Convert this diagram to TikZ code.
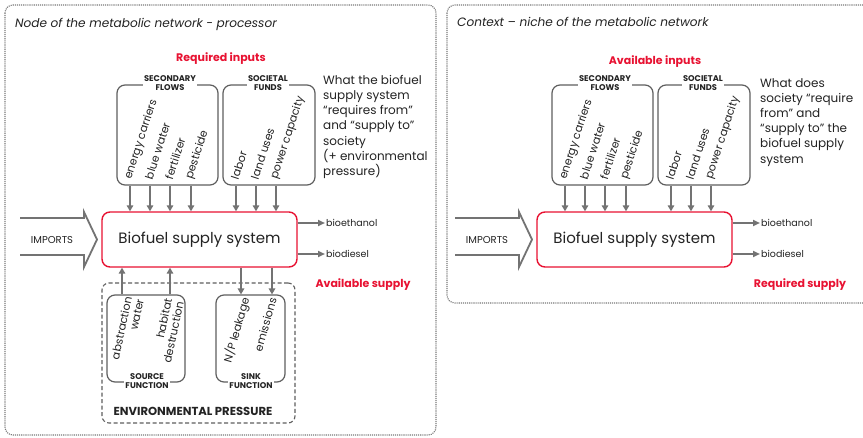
\documentclass[tikz,border=0pt]{standalone}
\usepackage{fontspec}
\setmainfont{Poppins}
\usetikzlibrary{arrows.meta}
\definecolor{myred}{RGB}{232,18,50}
\definecolor{ln}{RGB}{95,95,95}
\definecolor{arr}{RGB}{115,115,115}
\definecolor{pan}{RGB}{120,120,120}
\definecolor{txt}{RGB}{35,35,35}
\tikzset{
  panel/.style={draw=pan, densely dotted, line width=1.1pt, rounded corners=8pt},
  flowbox/.style={draw=ln, line width=1.2pt, rounded corners=8pt, inner sep=0pt},
  boxlabel/.style={fill=white, text=txt, font=\bfseries\fontsize{8.3}{9}\selectfont, align=center, inner sep=1.5pt},
  flowtxt/.style={text=txt, font=\fontsize{11}{12}\selectfont, anchor=west, rotate=72, inner sep=0pt},
  envtxt/.style={text=txt, font=\fontsize{11}{12}\selectfont, anchor=east, align=right, inner sep=0pt},
  inarrow/.style={draw=arr, line width=1.8pt, -{Triangle[width=6.5pt,length=6pt]}},
  outarrow/.style={draw=arr, line width=1.8pt, -{Triangle[width=6pt,length=7pt]}},
  mainbox/.style={draw=myred, line width=1.4pt, rounded corners=8pt, minimum width=195pt, minimum height=55pt, text=txt, font=\fontsize{15}{16}\selectfont},
  redlabel/.style={text=myred, font=\bfseries\fontsize{11}{12}\selectfont},
  note/.style={text=txt, align=left, anchor=north west, inner sep=0pt, font=\fontsize{12}{15.2}\selectfont},
  outtxt/.style={text=txt, anchor=west, inner sep=1pt, font=\fontsize{9.5}{11}\selectfont},
  imparrow/.style={draw=arr, line width=1.8pt, line join=miter},
  title/.style={text=txt, anchor=west, inner sep=0pt, font=\itshape\fontsize{12.1}{13}\selectfont},
}
\newcommand{\panelcore}[1]{%
  \node[flowbox, minimum width=101pt, minimum height=100pt] (#1sf) at (167.5,135) {};
  \node[boxlabel] (#1sfl) at (170,83) {SECONDARY\\FLOWS};
  \node[flowbox, minimum width=92pt, minimum height=100pt] (#1fu) at (269,135) {};
  \node[boxlabel] (#1ful) at (268,83) {SOCIETAL\\FUNDS};
  \node[mainbox] (#1m) at (199.5,239.5) {Biofuel supply system};
  \foreach \x/\t/\b [count=\i] in {130/energy carriers/sf,150/blue water/sf,170/fertilizer/sf,191/pesticide/sf,236/labor/fu,256/land uses/fu,276/power capacity/fu} {
    \node[flowtxt] (#1t\i) at (\x-1.5,179) {\t};
    \coordinate (#1c\i) at (\x,0);
    \draw[inarrow] (#1\b.south -| #1c\i) -- (#1m.north -| #1c\i);
  }
  \node[text=txt, font=\fontsize{10}{11}\selectfont, inner sep=0pt] (#1imp) at (52,240) {IMPORTS};
  \draw[imparrow] (20,218) -- (84,218) -- (84,212) -- (97,239.5) -- (84,267) -- (84,255) -- (20,255);
  \node[outtxt] (#1be) at (325,223) {bioethanol};
  \node[outtxt] (#1bd) at (325,254) {biodiesel};
  \draw[outarrow] (#1m.east |- #1be) -- (#1be.west);
  \draw[outarrow] (#1m.east |- #1bd) -- (#1bd.west);
}
\begin{document}
\begin{tikzpicture}[x=1pt,y=-1pt]
\useasboundingbox (0,0) rectangle (863,438);
\fill[white] (0,0) rectangle (863,438);
% panels
\draw[panel] (5,5) rectangle (436,435);
\draw[panel] (447,5) rectangle (885,303);
\node[title] (t1) at (15,24) {Node of the metabolic network - processor};
\node[title] (t2) at (457,22) {Context – niche of the metabolic network};
% left panel
\panelcore{L}
\node[redlabel] (Lri) at (221,59) {Required inputs};
\node[redlabel] (Las) at (363,285) {Available supply};
\node[note] (Ln) at (323,75) {What the biofuel\\supply system\\“requires from”\\and “supply to”\\society\\(+ environmental\\pressure)};
% environmental pressure
\node[draw=ln, dash pattern=on 4pt off 2.5pt, line width=1.1pt, rounded corners=7pt, minimum width=193pt, minimum height=140pt, inner sep=0pt] (env) at (198.5,353) {};
\node[text=txt, font=\bfseries\fontsize{11.6}{12}\selectfont, inner sep=0pt] (envl) at (193,411) {ENVIRONMENTAL PRESSURE};
\node[flowbox, minimum width=78pt, minimum height=87pt] (src) at (146,338.5) {};
\node[flowbox, minimum width=69pt, minimum height=87pt] (snk) at (250.5,338.5) {};
\node[boxlabel] (srcl) at (147,381) {SOURCE\\FUNCTION};
\node[boxlabel] (snkl) at (251,381) {SINK\\FUNCTION};
\node[envtxt, rotate=78] (wa) at (134,298) {abstraction\\water};
\node[envtxt, rotate=78] (hd) at (174,300) {habitat\\destruction};
\node[envtxt, rotate=74] (np) at (246,298) {N/P leakage};
\node[envtxt, rotate=74] (em) at (273,298) {emissions};
\coordinate (e1) at (122,0);
\coordinate (e2) at (170,0);
\coordinate (e3) at (241,0);
\coordinate (e4) at (272,0);
\draw[inarrow] (src.north -| e1) -- (Lm.south -| e1);
\draw[inarrow] (src.north -| e2) -- (Lm.south -| e2);
\draw[inarrow] (Lm.south -| e3) -- (snk.north -| e3);
\draw[inarrow] (Lm.south -| e4) -- (snk.north -| e4);
% right panel
\begin{scope}[xshift=435pt]
\panelcore{R}
\node[redlabel] (Rai) at (220,62) {Available inputs};
\node[redlabel] (Rrs) at (365,285) {Required supply};
\node[note] (Rn) at (325,78) {What does\\society “require\\from” and\\“supply to” the\\biofuel supply\\system};
\end{scope}
\end{tikzpicture}
\end{document}
